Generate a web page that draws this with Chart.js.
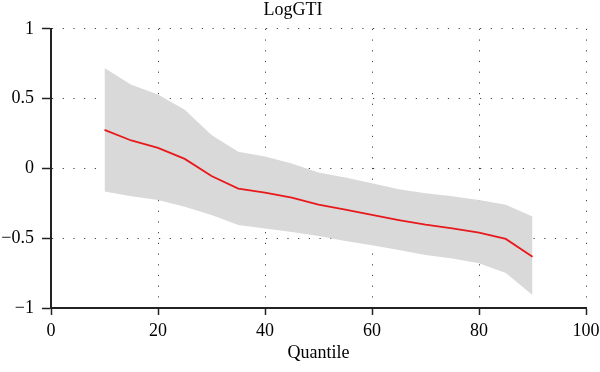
<!DOCTYPE html>
<html>
<head>
<meta charset="utf-8">
<script src="https://cdn.jsdelivr.net/npm/chart.js@4"></script>
<style>
  html, body { margin: 0; padding: 0; background: #fff; }
  #wrap { width: 600px; height: 372px; }
</style>
</head>
<body>
<div id="wrap"><canvas id="gtiChart"></canvas></div>
<script>
// quantile regression estimates for LogGTI
const quantiles = [10, 15, 20, 25, 30, 35, 40, 45, 50, 55, 60, 65, 70, 75, 80, 85, 90];
const estimate = [0.276, 0.20, 0.147, 0.068, -0.055, -0.145, -0.173, -0.21, -0.26, -0.295, -0.333, -0.37, -0.403, -0.43, -0.46, -0.505, -0.632];
const upperBound = [0.72, 0.60, 0.53, 0.42, 0.24, 0.12, 0.085, 0.035, -0.03, -0.065, -0.106, -0.15, -0.178, -0.2, -0.226, -0.26, -0.345];
const lowerBound = [-0.166, -0.2, -0.226, -0.274, -0.333, -0.405, -0.43, -0.455, -0.485, -0.52, -0.55, -0.584, -0.62, -0.645, -0.68, -0.75, -0.907];
const xTicks = [0, 20, 40, 60, 80, 100];
const yTicks = [-1, -0.5, 0, 0.5, 1];

const toPoints = arr => quantiles.map((q, i) => ({ x: q, y: arr[i] }));
const serif = "'Liberation Serif', 'DejaVu Serif', serif";

const ctx = document.getElementById('gtiChart').getContext('2d');
const gtiChart = new Chart(ctx, {
    type: 'line',
    data: {
        datasets: [{
            label: 'Estimate',
            data: toPoints(estimate),
            borderColor: '#e8191c',
            borderWidth: 1.8,
            pointRadius: 0,
            fill: false
        },
        {
            label: 'Upper',
            data: toPoints(upperBound),
            borderWidth: 0,
            borderColor: 'rgba(0,0,0,0)',
            backgroundColor: '#d9d9d9',
            pointRadius: 0,
            fill: '+1'
        },
        {
            label: 'Lower',
            data: toPoints(lowerBound),
            borderWidth: 0,
            borderColor: 'rgba(0,0,0,0)',
            pointRadius: 0,
            fill: false
        }]
    },
    options: {
        responsive: true,
        maintainAspectRatio: false,
        animation: false,
        layout: { padding: { left: 0, right: 14, top: 0, bottom: 0 } },
        plugins: {
            legend: { display: false },
            tooltip: { enabled: false },
            title: {
                display: true,
                text: 'LogGTI',
                color: '#000',
                font: { family: serif, size: 18, weight: 'normal', lineHeight: 1.1 },
                padding: { top: 0, bottom: 9 }
            }
        },
        scales: {
            x: {
                type: 'linear',
                min: 0,
                max: 100,
                afterBuildTicks: scale => { scale.ticks = xTicks.map(v => ({ value: v })); },
                afterFit: scale => {
                    scale.height = 64;
                    // let the "100" label run into the right margin like the original
                    scale.paddingLeft = 0;
                    scale.paddingRight = 0;
                },
                ticks: {
                    color: '#000',
                    font: { family: serif, size: 18 },
                    padding: 5,
                    maxRotation: 0
                },
                grid: {
                    color: 'rgba(0,0,0,0.75)',
                    lineWidth: 1,
                    tickColor: '#222',
                    tickLength: 7,
                    tickWidth: 1.5
                },
                border: { display: true, color: '#222', width: 2, dash: [1.2, 9.5] },
                title: {
                    display: true,
                    text: 'Quantile',
                    color: '#000',
                    font: { family: serif, size: 18 },
                    padding: { top: 0, bottom: 8 }
                }
            },
            y: {
                type: 'linear',
                min: -1,
                max: 1,
                afterBuildTicks: scale => { scale.ticks = yTicks.map(v => ({ value: v })); },
                afterFit: scale => { scale.width = 51; },
                ticks: {
                    color: '#000',
                    font: { family: serif, size: 18 },
                    padding: 8,
                    callback: v => String(v).replace('-', '\u2212')
                },
                grid: {
                    color: 'rgba(0,0,0,0.75)',
                    lineWidth: 1,
                    tickColor: '#222',
                    tickLength: 9,
                    tickWidth: 1.5
                },
                border: { display: true, color: '#222', width: 2, dash: [1.2, 9.5] }
            }
        }
    }
});
</script>
</body>
</html>
